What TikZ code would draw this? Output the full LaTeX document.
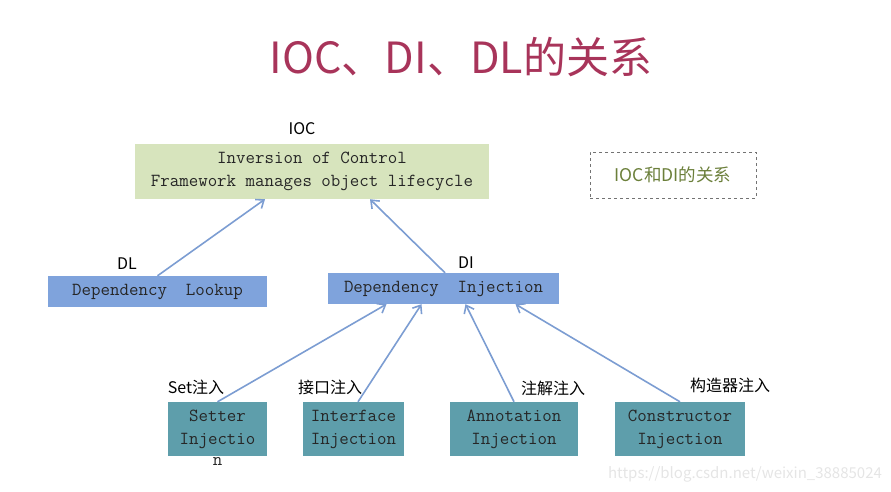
\documentclass[tikz,border=0pt]{standalone}
\usepackage{fontspec}
\usepackage{xcolor}
\usepackage{tikz}
\usetikzlibrary{arrows.meta}
\newfontfamily\cjkfont{Noto Sans CJK SC}
\definecolor{titlered}{HTML}{A8345A}
\definecolor{iocgreen}{HTML}{D7E4BD}
\definecolor{diblue}{HTML}{7FA3DC}
\definecolor{injteal}{HTML}{5E9EAB}
\definecolor{arrowblue}{HTML}{7C9DD2}
\definecolor{notegreen}{HTML}{6B7F3A}

\begin{document}
\begin{tikzpicture}[x=1pt, y=-1pt,
  box/.style={rectangle, align=center, inner sep=0pt, text=black!85,
    font=\ttfamily\fontsize{18.4}{23}\selectfont},
  tag/.style={font=\cjkfont\fontsize{16}{19}\selectfont, text=black},
  link/.style={draw=arrowblue, line width=1.6pt, -{Straight Barb[length=7pt, width=11pt]}}]
\useasboundingbox (0,0) rectangle (891,492);

\node[font=\cjkfont\fontsize{43}{50}\selectfont, text=titlered] (title) at (461,57) {IOC、DI、DL的关系};

\node[box, fill=iocgreen, minimum width=354pt, minimum height=55pt] (ioc) at (312,171.5) {Inversion of Control\\Framework manages object lifecycle};
\node[box, fill=diblue, minimum width=219pt, minimum height=31pt] (dl) at (157.5,291.5) {Dependency\ \ Lookup};
\node[box, fill=diblue, minimum width=231pt, minimum height=31pt] (di) at (443.5,288.5) {Dependency\ \ Injection};

\node[box, fill=injteal, minimum width=99pt, minimum height=54pt,
  label={[box, fill=none, yshift=-1pt]below:n}] (setter) at (217.5,429) {Setter\\Injectio};
\node[box, fill=injteal, minimum width=101pt, minimum height=54pt] (iface) at (353.5,429) {Interface\\Injection};
\node[box, fill=injteal, minimum width=128pt, minimum height=54pt] (annot) at (514,429) {Annotation\\Injection};
\node[box, fill=injteal, minimum width=130pt, minimum height=54pt] (ctor) at (680,429) {Constructor\\Injection};

\node[tag] (ioclabel) at (302,129) {IOC};
\node[tag] (dllabel) at (127,264) {DL};
\node[tag] (dilabel) at (466,263) {DI};
\node[tag] (setlabel) at (196,387) {Set注入};
\node[tag] (ifacelabel) at (330,387) {接口注入};
\node[tag] (annotlabel) at (553,388) {注解注入};
\node[tag] (ctorlabel) at (730,385) {构造器注入};

\node[draw=black!55, dashed, line width=0.7pt, minimum width=166pt, minimum height=46pt,
  font=\cjkfont\fontsize{17.5}{20}\selectfont, text=notegreen] (note) at (673,175) {IOC和DI的关系};

\draw[link] (dl.north) -- ([xshift=-47pt]ioc.south);
\draw[link] ([xshift=1.5pt]di.north) -- ([xshift=58pt]ioc.south);
\draw[link] (setter.north) -- ([xshift=-57pt]di.south);
\draw[link] ([xshift=4.5pt]iface.north) -- ([xshift=-22pt]di.south);
\draw[link] (annot.north) -- ([xshift=22pt]di.south);
\draw[link] (ctor.north) -- ([xshift=72pt]di.south);

\node[font=\cjkfont\fontsize{15}{18}\selectfont, text=black!10] (mark) at (745,474) {https://blog.csdn.net/weixin\_38885024};
\end{tikzpicture}
\end{document}
